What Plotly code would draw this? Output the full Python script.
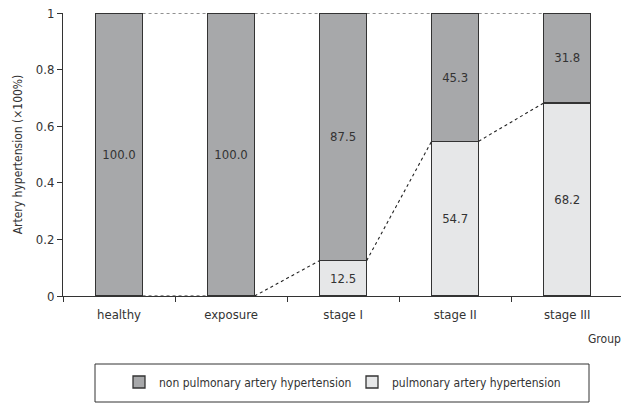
import plotly.graph_objects as go

categories = ["healthy", "exposure", "stage I", "stage II", "stage III"]
non_pah = [1.000, 1.000, 0.875, 0.453, 0.318]
pah = [0.0, 0.0, 0.125, 0.547, 0.682]
non_pah_text = ["100.0", "100.0", "87.5", "45.3", "31.8"]
pah_text = ["", "", "12.5", "54.7", "68.2"]
yticks = [0, 0.2, 0.4, 0.6, 0.8, 1]
ytick_labels = ["0", "0.2", "0.4", "0.6", "0.8", "1"]

FONT = "DejaVu Sans Condensed, Liberation Sans Narrow, sans-serif"
DARK = "#a7a8aa"
LIGHT = "#e6e7e8"
EDGE = "#333333"
W = 0.42
xs = list(range(len(categories)))

fig = go.Figure()

fig.add_trace(go.Bar(
    x=xs, y=pah, width=W, name="pulmonary artery hypertension",
    marker=dict(color=LIGHT, line=dict(color=EDGE, width=1.3)),
    text=pah_text, textposition="inside", insidetextanchor="middle",
    textfont=dict(family=FONT, size=13, color="#333"), textangle=0,
    cliponaxis=False,
))
fig.add_trace(go.Bar(
    x=xs, y=non_pah, width=W, name="non pulmonary artery hypertension",
    marker=dict(color=DARK, line=dict(color=EDGE, width=1.3)),
    text=non_pah_text, textposition="inside", insidetextanchor="middle",
    textfont=dict(family=FONT, size=13, color="#333"), textangle=0,
    cliponaxis=False,
))

# dotted connectors
top_x, top_y, low_x, low_y = [], [], [], []
for i in range(len(categories) - 1):
    top_x += [xs[i] + W / 2, xs[i + 1] - W / 2, None]
    top_y += [1, 1, None]
    low_x += [xs[i] + W / 2, xs[i + 1] - W / 2, None]
    low_y += [pah[i], pah[i + 1], None]
for lx, ly in [(top_x, top_y), (low_x, low_y)]:
    fig.add_trace(go.Scatter(x=lx, y=ly, mode="lines", showlegend=False,
                             line=dict(color="#222", width=1.1, dash="dot"),
                             hoverinfo="skip", cliponaxis=False))

fig.update_layout(
    barmode="stack",
    width=621, height=403,
    margin=dict(l=63, r=0, t=13, b=107, autoexpand=False),
    plot_bgcolor="white", paper_bgcolor="white",
    font=dict(family=FONT, size=13, color="#333"),
    showlegend=True,
    legend=dict(orientation="h", x=(119 - 63) / 558, xanchor="left",
                y=-(86 / 283), yanchor="middle",
                traceorder="reversed", entrywidth=188, entrywidthmode="pixels",
                font=dict(family=FONT, size=12, color="#333"),
                bgcolor="rgba(0,0,0,0)"),
    xaxis=dict(range=[-0.5, 4.48], tickvals=xs, ticktext=categories, ticks="",
               showline=True, linecolor="#333", linewidth=1, showgrid=False,
               zeroline=False, tickfont=dict(size=13), automargin=False,
               ticklabelstandoff=6,
               minor=dict(tick0=0.5, dtick=1, ticks="outside", ticklen=5,
                          tickcolor="#333", showgrid=False)),
    yaxis=dict(range=[0, 1], tickvals=yticks, ticktext=ytick_labels,
               ticks="outside", ticklen=5, tickcolor="#333",
               showline=True, linecolor="#333", linewidth=1, showgrid=False,
               zeroline=False, tickfont=dict(size=13), automargin=False,
               title=dict(text="Artery hypertension (×100%)", font=dict(size=12), standoff=10)),
    shapes=[dict(type="rect", xref="paper", yref="paper",
                 x0=(95 - 63) / 558, x1=(589 - 63) / 558,
                 y0=-(106 / 283), y1=-(68 / 283),
                 line=dict(color="#333", width=1), fillcolor="rgba(0,0,0,0)")],
    annotations=[dict(text="Group", xref="paper", yref="paper",
                      x=1.003, y=-(43 / 283), xanchor="right", yanchor="middle",
                      showarrow=False, font=dict(size=12))],
)

fig.write_html("out.html", config={"displayModeBar": False},
               post_script="document.body.style.margin='0';document.body.style.overflow='hidden';")
